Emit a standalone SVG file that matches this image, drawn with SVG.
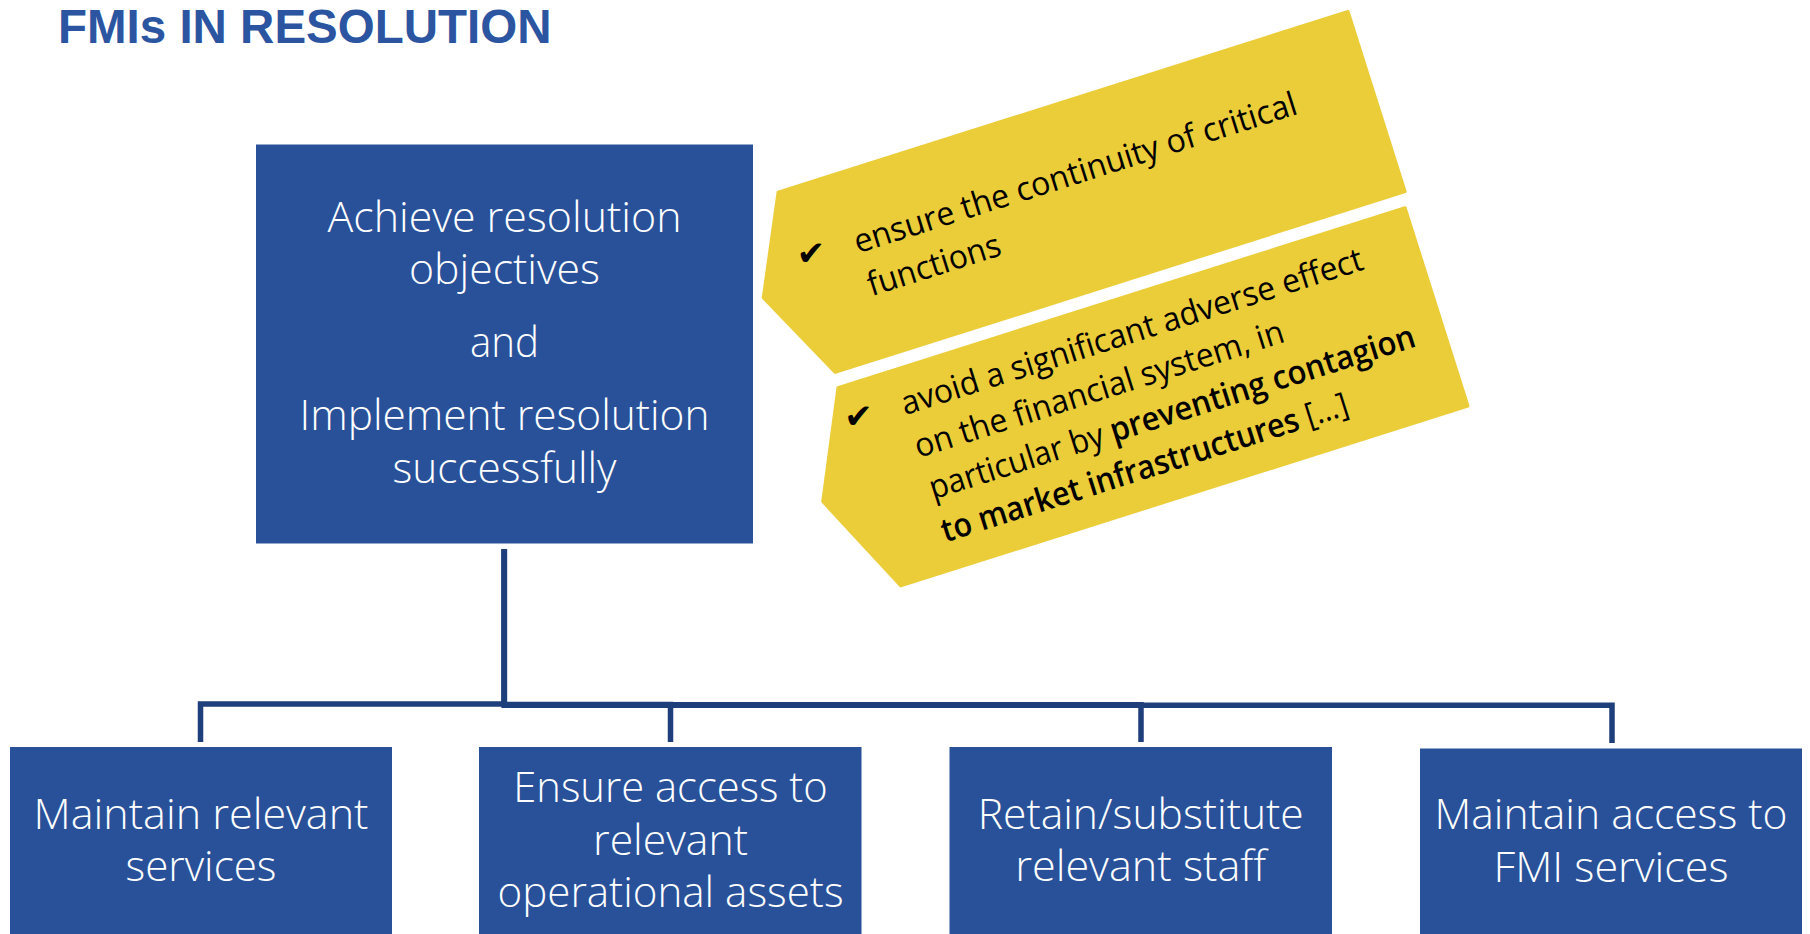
<svg xmlns="http://www.w3.org/2000/svg" width="1810" height="934" viewBox="0 0 1810 934">
  <style>
    .box { fill: #28519A; }
    .wt { fill: #FFFFFF; font-family: "Open Sans", "Liberation Sans", sans-serif; font-weight: 300; font-size: 42px; text-anchor: middle; }
    .yel { fill: #EBCD39; stroke: #EBCD39; stroke-width: 3; stroke-linejoin: round; }
    .bt { fill: #000000; font-family: "Open Sans", "Liberation Sans", sans-serif; font-size: 33px; }
    .b { font-weight: 600; }
    .chk { fill: #000000; font-family: "DejaVu Sans", sans-serif; font-size: 34px; text-anchor: middle; }
    .conn { fill: none; stroke: #1F3F7C; stroke-width: 5.5; stroke-linejoin: miter; }
  </style>
  <rect width="1810" height="934" fill="#FFFFFF"/>

  <g id="title">
    <text x="58" y="43" font-family="Liberation Sans, Arial, sans-serif" font-weight="700" font-size="47.5" fill="#2B55A1">FMIs IN RESOLUTION</text>
  </g>

  <g id="connectors">
    <path class="conn" d="M504.3 549 V704 H200.5 V742"/>
    <path class="conn" d="M504.3 549 V704.5 H670.5 V742"/>
    <path class="conn" d="M504.3 549 V704.8 H1141 V742"/>
    <path class="conn" d="M504.3 549 V705.3 H1612 V743"/>
  </g>

  <g id="main">
    <rect class="box" x="256" y="144.5" width="497" height="399"/>
    <text class="wt" x="504.5" y="232" textLength="354" lengthAdjust="spacingAndGlyphs">Achieve resolution</text>
    <text class="wt" x="504.5" y="284" textLength="191" lengthAdjust="spacingAndGlyphs">objectives</text>
    <text class="wt" x="504.5" y="357" textLength="69" lengthAdjust="spacingAndGlyphs">and</text>
    <text class="wt" x="504.5" y="430" textLength="410" lengthAdjust="spacingAndGlyphs">Implement resolution</text>
    <text class="wt" x="504.5" y="483" textLength="224" lengthAdjust="spacingAndGlyphs">successfully</text>
  </g>

  <g id="objective1" transform="translate(776.8 191.6) rotate(-17.6)">
    <path class="yel" d="M1 1 L599 1 L599 190 L1 190 L-45 97 Z"/>
    <text class="chk" x="14" y="81" transform="rotate(17.6 14 69)">✔</text>
    <text class="bt" x="58.6" y="83.5" textLength="463" lengthAdjust="spacingAndGlyphs">ensure the continuity of critical</text>
    <text class="bt" x="58.7" y="128.5" textLength="138" lengthAdjust="spacingAndGlyphs">functions</text>
  </g>

  <g id="objective2" transform="translate(836.7 387) rotate(-17.6)">
    <path class="yel" d="M1 1 L596 1 L596 209 L1 209 L-48 105 Z"/>
    <text class="chk" x="12" y="46" transform="rotate(17.6 12 34)">✔</text>
    <text class="bt" x="56.6" y="47.5" textLength="483" lengthAdjust="spacingAndGlyphs">avoid a significant adverse effect</text>
    <text class="bt" x="56.4" y="92.5" textLength="386" lengthAdjust="spacingAndGlyphs">on the financial system, in</text>
    <text class="bt" x="58" y="136.5" textLength="508" lengthAdjust="spacingAndGlyphs">particular by <tspan class="b">preventing contagion</tspan></text>
    <text class="bt" x="56.5" y="181" textLength="425" lengthAdjust="spacingAndGlyphs"><tspan class="b">to market infrastructures</tspan> […]</text>
  </g>

  <g id="services">
    <rect class="box" x="10" y="747" width="382" height="195"/>
    <text class="wt" x="201" y="829.3" textLength="335" lengthAdjust="spacingAndGlyphs">Maintain relevant</text>
    <text class="wt" x="201" y="880.7" textLength="151" lengthAdjust="spacingAndGlyphs">services</text>
  </g>

  <g id="assets">
    <rect class="box" x="479" y="747" width="382.5" height="195"/>
    <text class="wt" x="670.5" y="802" textLength="314.5" lengthAdjust="spacingAndGlyphs">Ensure access to</text>
    <text class="wt" x="670.5" y="854.5" textLength="155" lengthAdjust="spacingAndGlyphs">relevant</text>
    <text class="wt" x="670.5" y="906.5" textLength="346" lengthAdjust="spacingAndGlyphs">operational assets</text>
  </g>

  <g id="staff">
    <rect class="box" x="949.5" y="747" width="382.5" height="195"/>
    <text class="wt" x="1140.7" y="829.3" textLength="326" lengthAdjust="spacingAndGlyphs">Retain/substitute</text>
    <text class="wt" x="1140.7" y="880.7" textLength="251" lengthAdjust="spacingAndGlyphs">relevant staff</text>
  </g>

  <g id="fmi">
    <rect class="box" x="1420" y="748.5" width="382" height="195"/>
    <text class="wt" x="1611" y="829.3" textLength="353" lengthAdjust="spacingAndGlyphs">Maintain access to</text>
    <text class="wt" x="1611" y="881.5" textLength="235" lengthAdjust="spacingAndGlyphs">FMI services</text>
  </g>
</svg>
